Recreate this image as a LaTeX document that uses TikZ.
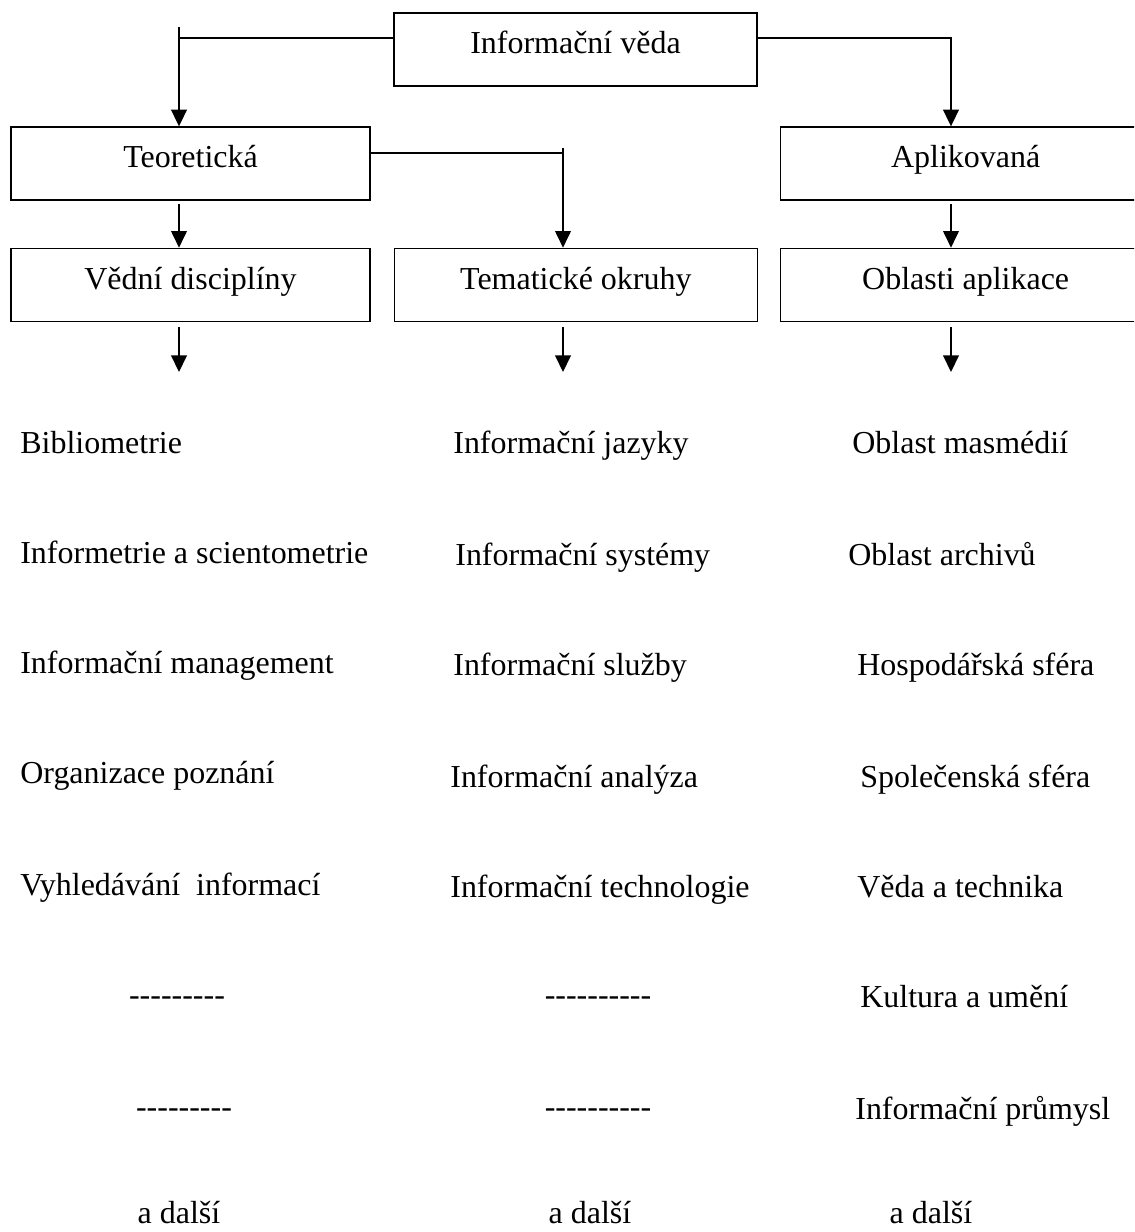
\documentclass[tikz,border=0pt]{standalone}
\usepackage{fontspec}
\setmainfont{Liberation Serif}
\usetikzlibrary{positioning, arrows.meta}
\tikzset{
    mybox/.style={
        draw,
        line width=.8pt,
        inner sep=0pt,
        minimum height=1.46cm,
        text height=12pt,
        text depth=7pt,
        font=\fontsize{18.2pt}{22pt}\selectfont
    },
    myitem/.style={
        inner sep=0pt,
        anchor=base west,
        font=\fontsize{18.2pt}{22pt}\selectfont
    },
    myarrow/.style={
        line width=.8pt,
        -{Triangle[length=9.5pt, width=9pt]}
    }
}
\newcommand\mydashes{-{}-{}-{}-{}-{}-{}-{}-{}-}

\begin{document}
\begin{tikzpicture}[x=0.02cm, y=-0.02cm, node distance=0.94cm and 0.46cm]
\useasboundingbox (0,0) rectangle (1134,1232);
\clip (0,0) rectangle (1134,1232);

% boxes
\node[mybox, minimum width=7.26cm]             (IV) at (575.5,49.5)  {Informační věda};
\node[mybox, minimum width=7.18cm]             (T)  at (190.5,163.5) {Teoretická};
\node[mybox, minimum width=7.18cm, below=of T] (VD) {Vědní disciplíny};
\node[mybox, minimum width=7.26cm, right=of VD](TO) {Tematické okruhy};
\node[mybox, minimum width=7.4cm, anchor=west] (AP) at (780,163.5)   {Aplikovaná};
\node[mybox, minimum width=7.4cm, below=of AP] (OA) {Oblasti aplikace};

% connectors
\coordinate (cL) at (179,38);
\coordinate (cM) at (563,153);
\coordinate (cR) at (951,38);
\coordinate (eL) at (179,372);
\coordinate (eM) at (563,372);
\coordinate (eR) at (951,372);

\draw[myarrow] (IV.west |- cL) -| (T.north -| cL);
\draw[line width=.8pt] (cL) -- ++(0,-11);
\draw[myarrow] (IV.east |- cR) -| (AP.north -| cR);
\draw[myarrow] (T.east |- cM) -| (TO.north -| cM);
\draw[line width=.8pt] (cM) -- ++(0,-5);
\draw[myarrow, shorten <=2] (T.south -| cL) -- (VD.north -| cL);
\draw[myarrow, shorten <=2] (AP.south -| cR) -- (OA.north -| cR);
\draw[myarrow, shorten <=3] (VD.south -| eL) -- (eL);
\draw[myarrow, shorten <=3] (TO.south -| eM) -- (eM);
\draw[myarrow, shorten <=3] (OA.south -| eR) -- (eR);

% Vedni discipliny
\node[myitem] (L1) at (20,453)  {Bibliometrie};
\node[myitem] (L2) at (20,563)  {Informetrie a scientometrie};
\node[myitem] (L3) at (20,673)  {Informační management};
\node[myitem] (L4) at (20,783)  {Organizace poznání};
\node[myitem] (L5) at (20,895)  {Vyhledávání~ informací};
\node[myitem, anchor=base] (L6) at (177,1005) {\mydashes};
\node[myitem, anchor=base] (L7) at (184,1117) {\mydashes};
\node[myitem, anchor=base] (L8) at (179,1223) {a další};

% Tematicke okruhy
\node[myitem] (M1) at (453,453)  {Informační jazyky};
\node[myitem] (M2) at (455,565)  {Informační systémy};
\node[myitem] (M3) at (453,675)  {Informační služby};
\node[myitem] (M4) at (450,787)  {Informační analýza};
\node[myitem] (M5) at (450,897)  {Informační technologie};
\node[myitem, anchor=base] (M6) at (598,1005) {\mydashes{}-};
\node[myitem, anchor=base] (M7) at (598,1117) {\mydashes{}-};
\node[myitem, anchor=base] (M8) at (590,1223) {a další};

% Oblasti aplikace
\node[myitem] (R1) at (852,453)  {Oblast masmédií};
\node[myitem] (R2) at (848,565)  {Oblast archivů};
\node[myitem] (R3) at (857,675)  {Hospodářská sféra};
\node[myitem] (R4) at (860,787)  {Společenská sféra};
\node[myitem] (R5) at (857,897)  {Věda a technika};
\node[myitem] (R6) at (860,1007) {Kultura a umění};
\node[myitem] (R7) at (855,1119) {Informační průmysl};
\node[myitem, anchor=base] (R8) at (931,1223) {a další};
\end{tikzpicture}
\end{document}
